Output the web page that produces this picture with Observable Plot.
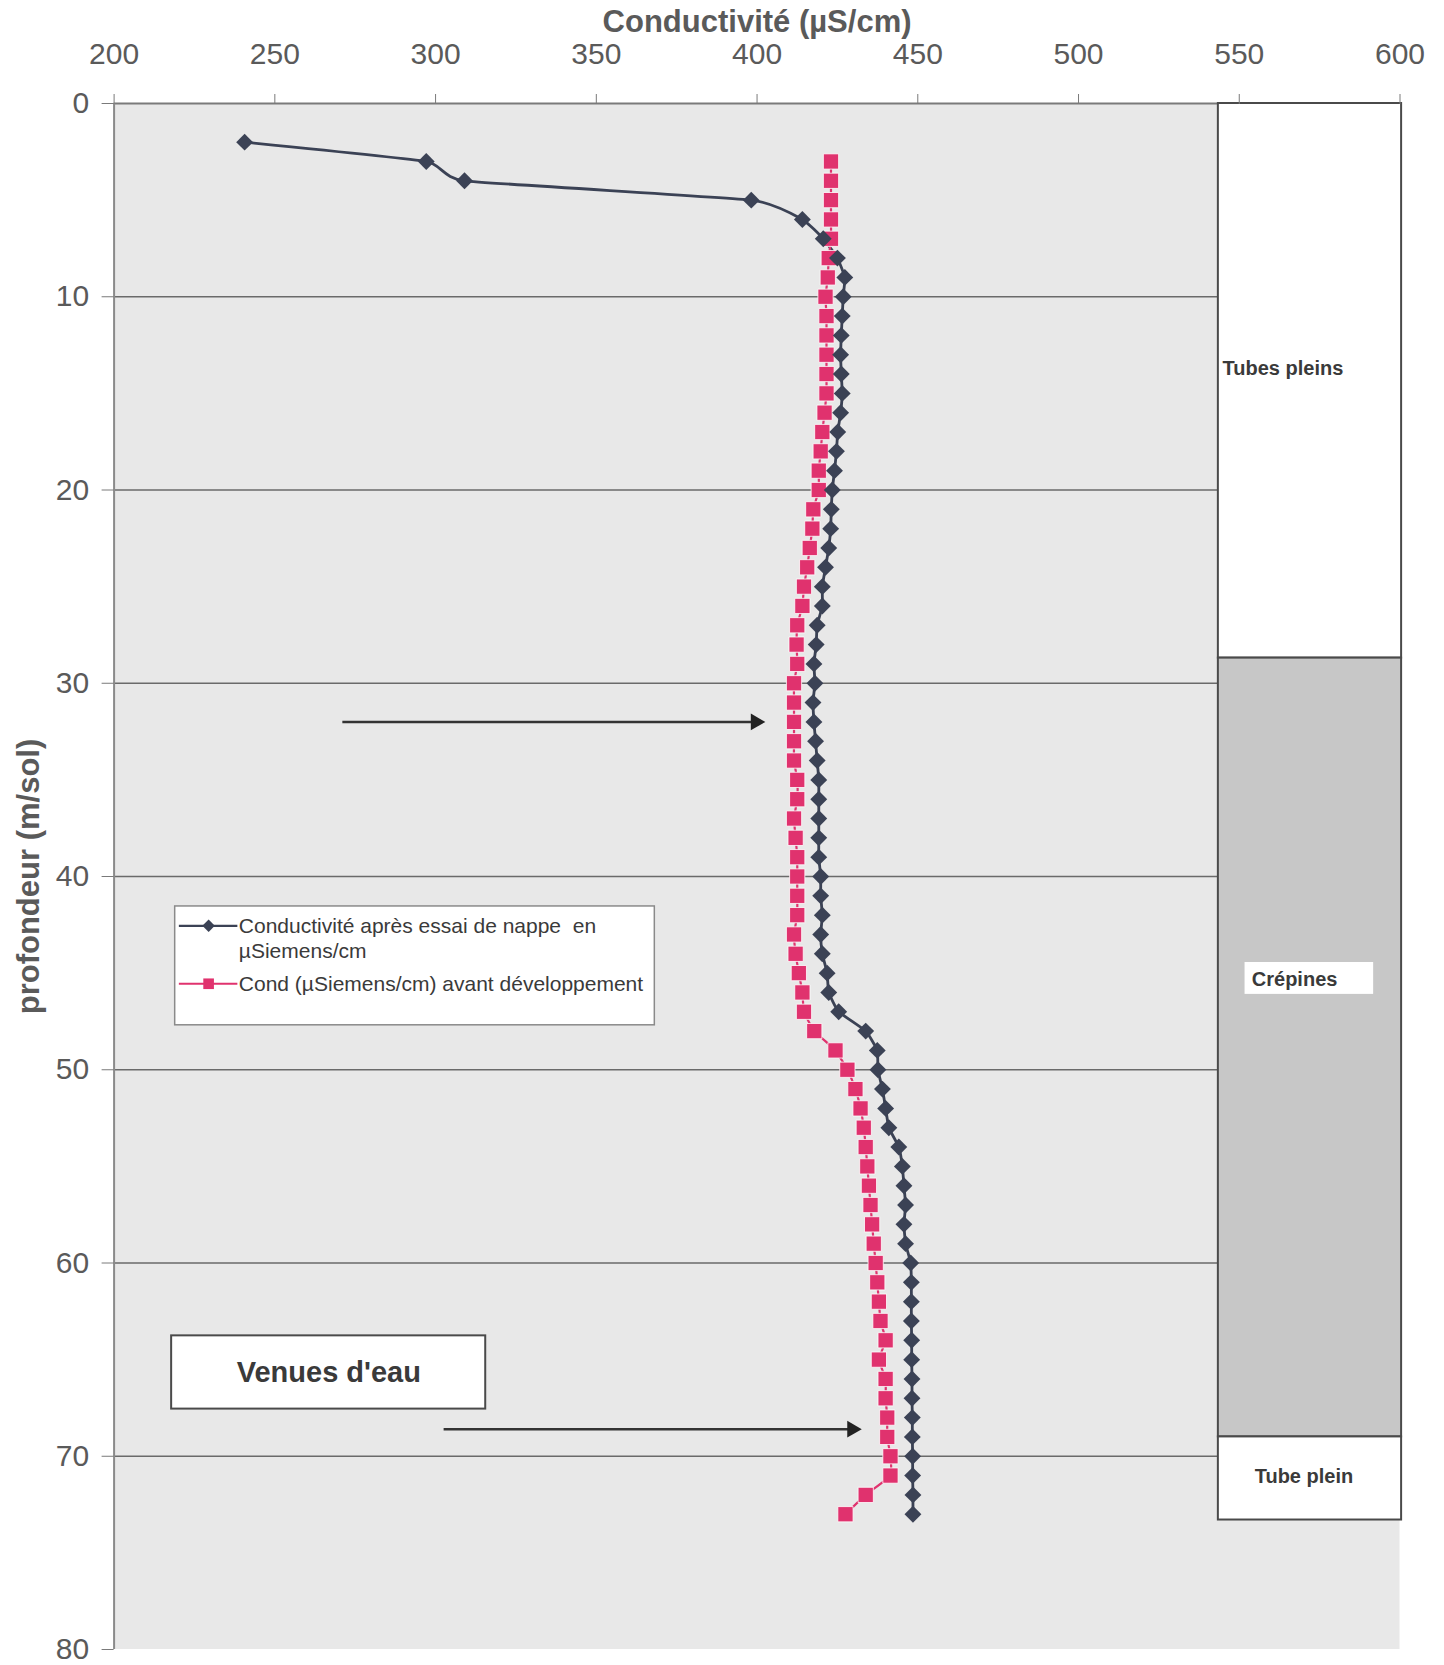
<!DOCTYPE html>
<html>
<head>
<meta charset="utf-8">
<script src="https://cdn.jsdelivr.net/npm/d3@7"></script>
<script src="https://cdn.jsdelivr.net/npm/@observablehq/plot@0.6"></script>
<style>
  body { margin: 0; background: #fff; }
  #chart svg { display: block; }
</style>
</head>
<body>
<div id="chart"></div>
<script>
// ---- Data ----
const seriesNames = [
  "Conductivité après essai de nappe  en µSiemens/cm",
  "Cond (µSiemens/cm) avant développement"
];
// Series 1: après essai de nappe (depth in m, conductivity in µS/cm)
const depthAfter = [2,3,4,5,6,7,8,9,10,11,12,13,14,15,16,17,18,19,20,21,22,23,24,25,26,27,28,29,30,31,32,33,34,35,36,37,38,39,40,41,42,43,44,45,46,47,48,49,50,51,52,53,54,55,56,57,58,59,60,61,62,63,64,65,66,67,68,69,70,71,72,73];
const condAfter = [240.6,297.1,309.0,398.2,414.1,420.6,425.0,427.3,426.8,426.5,426.2,426.0,426.2,426.5,426.0,425.1,424.7,424.1,423.4,423.1,422.9,422.3,421.3,420.3,420.3,418.7,418.4,417.7,418.0,417.4,417.7,418.2,418.7,419.2,419.2,419.2,419.2,419.2,419.8,419.8,420.3,419.8,420.3,421.8,422.3,425.4,433.8,437.4,437.6,439.0,440.0,441.0,444.1,445.2,445.7,446.2,445.7,446.2,447.8,448.0,448.0,448.0,448.1,448.1,448.2,448.2,448.3,448.3,448.4,448.4,448.5,448.5];
// Series 2: avant développement
const depthBefore = [3,4,5,6,7,8,9,10,11,12,13,14,15,16,17,18,19,20,21,22,23,24,25,26,27,28,29,30,31,32,33,34,35,36,37,38,39,40,41,42,43,44,45,46,47,48,49,50,51,52,53,54,55,56,57,58,59,60,61,62,63,64,65,66,67,68,69,70,71,72,73];
const condBefore = [423.0,423.0,423.0,423.0,423.0,422.3,422.0,421.3,421.6,421.6,421.6,421.6,421.6,421.0,420.3,419.8,419.2,419.2,417.5,417.2,416.4,415.6,414.6,414.1,412.5,412.3,412.5,411.5,411.5,411.5,411.5,411.5,412.5,412.5,411.5,412.0,412.5,412.5,412.5,412.5,411.5,412.0,413.0,414.1,414.6,417.8,424.4,428.1,430.6,432.2,433.2,433.8,434.3,434.8,435.3,435.8,436.3,436.9,437.4,437.9,438.4,440.0,437.9,440.0,440.0,440.5,440.5,441.5,441.5,433.8,427.5];

const xTicks = [200,250,300,350,400,450,500,550,600];
const yTicks = [0,10,20,30,40,50,60,70,80];
const gridDepths = [10,20,30,40,50,60,70];

// Well casing column (depth intervals)
const casingLabels = ["Tubes pleins", "Crépines", "Tube plein"];
const casingTop = [0, 28.7, 69.0];
const casingBottom = [28.7, 69.0, 73.3];

// Water inflow arrows ("Venues d'eau")
const arrowDepth = [32.0, 68.6];
const arrowFrom = [271.0, 302.5];
const arrowTo = [403.3, 433.3];

// ---- Build tables ----
const after = depthAfter.map((d, i) => ({depth: d, cond: condAfter[i]}));
const before = depthBefore.map((d, i) => ({depth: d, cond: condBefore[i]}));
const casing = casingLabels.map((l, i) => ({label: l, top: casingTop[i], bottom: casingBottom[i]}));
const arrows = arrowDepth.map((d, i) => ({depth: d, from: arrowFrom[i], to: arrowTo[i]}));

const DARK = "#3b4255";
const PINK = "#e0326e";
const FONT = "'Liberation Sans', Arial, Helvetica, sans-serif";

const chart = Plot.plot({
  width: 1444,
  height: 1665,
  marginLeft: 113.6,
  marginRight: 44.5,
  marginTop: 103,
  marginBottom: 16,
  style: {fontFamily: FONT, background: "#fff", color: "#555", overflow: "visible"},
  x: {domain: [200, 600]},
  y: {domain: [0, 80], reverse: true},
  marks: [
    // plot area background
    Plot.rect([0], {x1: 200, x2: 600, y1: 0, y2: 80, fill: "#e8e8e8"}),
    // horizontal gridlines
    Plot.ruleY(gridDepths, {x1: 200, x2: 543.5, stroke: "#6a6a6a", strokeWidth: 1.6}),
    // axis lines
    Plot.ruleY([0], {x1: 200, x2: 600.5, stroke: "#7a7a7a", strokeWidth: 2}),
    Plot.ruleX([200], {y1: 0, y2: 80, stroke: "#8a8a8a", strokeWidth: 2}),
    // casing column
    Plot.rect(casing, {x1: 543.5, x2: 600.5, y1: "top", y2: "bottom",
      fill: d => d.label === "Crépines" ? "#c7c7c7" : "#ffffff",
      stroke: "#4a4a4a", strokeWidth: 2}),
    Plot.rect(casing.filter(d => d.label === "Crépines"), {x1: 551.8, x2: 591.8,
      y1: d => (d.top + d.bottom) / 2 - 4.4, y2: d => (d.top + d.bottom) / 2 - 2.75, fill: "#ffffff"}),
    Plot.text(casing, {
      x: d => d.label === "Tubes pleins" ? 544.8 : (d.label === "Crépines" ? 553.9 : 554.8),
      y: d => d.label === "Tubes pleins" ? 13.7 : (d.label === "Crépines" ? (d.top + d.bottom) / 2 - 3.5 : (d.top + d.bottom) / 2 - 0.1),
      text: "label", textAnchor: "start", fontSize: 20, fontWeight: "bold", fill: "#3a3a3a"}),
    // series lines
    Plot.line(after, {x: "cond", y: "depth", stroke: DARK, strokeWidth: 2.8, curve: "cardinal", tension: 0.6}),
    Plot.line(before, {x: "cond", y: "depth", stroke: PINK, strokeWidth: 2.2, curve: "cardinal", tension: 0.6}),
    Plot.dot(before, {x: "cond", y: "depth", symbol: "square", r: 8.6, fill: PINK, stroke: "#ffffff", strokeWidth: 0.8}),
    Plot.dot(after, {x: "cond", y: "depth", symbol: "diamond2", r: 7.6, fill: DARK}),
    // legend
    Plot.rect([0], {x1: 219.0, x2: 368.2, y1: 41.55, y2: 47.7, fill: "#ffffff", stroke: "#8a8a8a", strokeWidth: 1.5}),
    Plot.ruleY([42.55], {x1: 220.3, x2: 238.5, stroke: DARK, strokeWidth: 2.2}),
    Plot.dot([0], {x: 229.4, y: 42.55, symbol: "diamond2", r: 5.6, fill: DARK}),
    Plot.text([seriesNames[0].split(" µ")[0]], {x: 238.8, y: 42.6, textAnchor: "start", fontSize: 21, fill: "#3a3a3a"}),
    Plot.text(["µ" + seriesNames[0].split(" µ")[1]], {x: 238.8, y: 43.85, textAnchor: "start", fontSize: 21, fill: "#3a3a3a"}),
    Plot.ruleY([45.55], {x1: 220.3, x2: 238.5, stroke: PINK, strokeWidth: 2}),
    Plot.dot([0], {x: 229.4, y: 45.55, symbol: "square", r: 6, fill: PINK}),
    Plot.text([seriesNames[1]], {x: 238.8, y: 45.6, textAnchor: "start", fontSize: 21, fill: "#3a3a3a"}),
    // "Venues d'eau" box
    Plot.rect([0], {x1: 217.9, x2: 315.6, y1: 63.77, y2: 67.56, fill: "#ffffff", stroke: "#4a4a4a", strokeWidth: 2}),
    Plot.text(["Venues d'eau"], {x: 266.8, y: 65.66, fontSize: 29, fontWeight: "bold", fill: "#3a3a3a"}),
    // arrows
    Plot.link(arrows, {x1: "from", x2: d => d.to - 4, y1: "depth", y2: "depth", stroke: "#333", strokeWidth: 2.5}),
    Plot.dot(arrows, {x: "to", y: "depth", dx: -12, symbol: "triangle2", rotate: 90, r: 8, fill: "#222"}),
    // axes
    Plot.axisX(xTicks, {anchor: "top", tickSize: 10, tickPadding: 30, fontSize: 30, stroke: "#7a7a7a", fill: "#5a5a5a", label: null}),
    Plot.axisY(yTicks, {anchor: "left", tickSize: 12, tickPadding: 13, fontSize: 30, stroke: "#7a7a7a", fill: "#5a5a5a", label: null}),
    // axis titles
    Plot.text(["Conductivité (µS/cm)"], {x: 400, y: 0, dy: -81, fontSize: 31, fontWeight: "bold", fill: "#5a5a5a"}),
    Plot.text(["profondeur (m/sol)"], {x: 200, y: 40, dx: -85, rotate: -90, fontSize: 31, fontWeight: "bold", fill: "#5a5a5a"})
  ]
});
document.getElementById("chart").appendChild(chart);
</script>
</body>
</html>
